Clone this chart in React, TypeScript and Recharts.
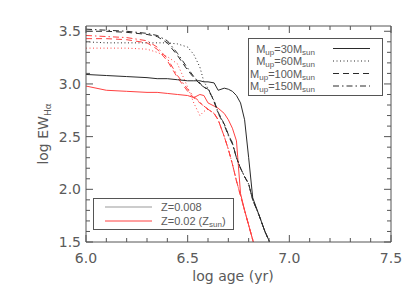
import { LineChart, Line, XAxis, YAxis } from 'recharts'

// log age grid shared by all tracks
const ages = [6.0, 6.1, 6.2, 6.3, 6.35, 6.4, 6.45, 6.5, 6.53, 6.56, 6.58, 6.6, 6.63, 6.65, 6.68, 6.7, 6.72, 6.74, 6.76, 6.78, 6.8, 6.82, 6.85, 6.88, 6.91]

// Z=0.008 (black)
const z008m30 = [3.09, 3.08, 3.07, 3.06, 3.05, 3.05, 3.04, 3.03, 3.03, 3.03, 3.02, 3.02, 3.01, 2.94, 2.96, 2.95, 2.93, 2.89, 2.82, 2.66, 2.3, 1.92, 1.76, 1.6, 1.47]
const z008m60 = [3.4, 3.39, 3.39, 3.39, 3.39, 3.39, 3.38, 3.35, 3.28, 3.16, 3.02, 2.96, 2.84, 2.73, 2.62, 2.52, 2.44, 2.3, 2.2, 2.12, 2.05, 1.9, 1.76, 1.6, 1.47]
const z008m100 = [3.5, 3.5, 3.49, 3.47, 3.45, 3.39, 3.27, 3.13, 3.06, 3.0, 2.97, 2.95, 2.84, 2.73, 2.62, 2.52, 2.44, 2.3, 2.2, 2.12, 2.05, 1.9, 1.76, 1.6, 1.47]
const z008m150 = [3.52, 3.51, 3.5, 3.48, 3.46, 3.41, 3.29, 3.15, 3.07, 3.01, 2.96, 2.96, 2.83, 2.72, 2.61, 2.51, 2.43, 2.3, 2.2, 2.12, 2.05, 1.9, 1.76, 1.6, 1.47]

// Z=0.02 (red)
const z02m30 = [2.98, 2.94, 2.93, 2.92, 2.92, 2.91, 2.9, 2.89, 2.87, 2.9, 2.89, 2.82, 2.79, 2.77, 2.72, 2.66, 2.58, 2.46, 1.96, 1.8, 1.66, 1.52, 1.3, null, null]
const z02m60 = [3.34, 3.34, 3.34, 3.33, 3.3, 3.26, 3.19, 2.97, 2.82, 2.7, 2.74, 2.76, 2.72, 2.66, 2.5, 2.38, 2.24, 2.08, 1.94, 1.8, 1.66, 1.52, 1.3, null, null]
const z02m100 = [3.43, 3.43, 3.42, 3.39, 3.33, 3.22, 3.06, 2.93, 2.87, 2.82, 2.79, 2.76, 2.72, 2.66, 2.5, 2.38, 2.24, 2.08, 1.94, 1.8, 1.66, 1.52, 1.3, null, null]
const z02m150 = [3.46, 3.45, 3.44, 3.41, 3.35, 3.24, 3.08, 2.95, 2.88, 2.83, 2.79, 2.76, 2.72, 2.66, 2.5, 2.38, 2.24, 2.08, 1.94, 1.8, 1.66, 1.52, 1.3, null, null]

const xMajor = [6.0, 6.5, 7.0, 7.5]
const yMajor = [1.5, 2.0, 2.5, 3.0, 3.5]
const xTicks = Array.from({ length: 16 }, (_, i) => Math.round((6 + i * 0.1) * 10) / 10)
const yTicks = Array.from({ length: 21 }, (_, i) => Math.round((1.5 + i * 0.1) * 10) / 10)

const data = ages.map((age, i) => ({
  age,
  a30: z008m30[i], a60: z008m60[i], a100: z008m100[i], a150: z008m150[i],
  b30: z02m30[i], b60: z02m60[i], b100: z02m100[i], b150: z02m150[i],
}))

const BLACK = '#2a2a2a'
const RED = '#ff4040'
const TXT = '#5a5a5a'
const FONT = 'DejaVu Sans, sans-serif'
const LFONT = 'Liberation Sans, Arial, sans-serif'
const dash = { m30: undefined, m60: '1 2.5', m100: '6 4', m150: '6 3 1.5 3' }

const isMajor = (v: number, list: number[]) => list.some((m) => Math.abs(m - v) < 1e-6)

const BottomTick = (p: any) => {
  const v = p.payload.value
  const big = isMajor(v, xMajor)
  return (
    <g>
      <line x1={p.x} x2={p.x} y1={p.y} y2={p.y - (big ? 7 : 4)} stroke="#555" />
      {big && (
        <text x={p.x} y={p.y + 21} textAnchor="middle" fontSize={14} fill={TXT} fontFamily={FONT}>
          {v.toFixed(1)}
        </text>
      )}
    </g>
  )
}
const TopTick = (p: any) => {
  const big = isMajor(p.payload.value, xMajor)
  return <line x1={p.x} x2={p.x} y1={p.y} y2={p.y + (big ? 7 : 4)} stroke="#555" />
}
const LeftTick = (p: any) => {
  const v = p.payload.value
  const big = isMajor(v, yMajor)
  return (
    <g>
      <line x1={p.x} x2={p.x + (big ? 7 : 4)} y1={p.y} y2={p.y} stroke="#555" />
      {big && (
        <text x={p.x - 5} y={p.y + 5} textAnchor="end" fontSize={14} fill={TXT} fontFamily={FONT}>
          {v.toFixed(1)}
        </text>
      )}
    </g>
  )
}
const RightTick = (p: any) => {
  const big = isMajor(p.payload.value, yMajor)
  return <line x1={p.x} x2={p.x - (big ? 7 : 4)} y1={p.y} y2={p.y} stroke="#555" />
}

const mupRows = [
  { m: '30', d: dash.m30, y: 48.5 },
  { m: '60', d: dash.m60, y: 61 },
  { m: '100', d: dash.m100, y: 73.5 },
  { m: '150', d: dash.m150, y: 86 },
]

export default function App() {
  const axisProps = { tickSize: 0, tickMargin: 0, tickLine: false, interval: 0 as const, stroke: '#555' }
  return (
    <div style={{ position: 'absolute', left: 0, top: 0, width: 415, height: 297, background: '#fff' }}>
      <LineChart width={415} height={297} data={data} margin={{ top: 16, right: 14, bottom: 35, left: 46 }}>
        <XAxis xAxisId="b" dataKey="age" type="number" domain={[6, 7.5]} ticks={xTicks} orientation="bottom" height={20} tick={BottomTick} {...axisProps} />
        <XAxis xAxisId="t" dataKey="age" type="number" domain={[6, 7.5]} ticks={xTicks} orientation="top" height={10} tick={TopTick} {...axisProps} />
        <YAxis yAxisId="l" type="number" domain={[1.5, 3.55]} allowDataOverflow ticks={yTicks} orientation="left" width={40} tick={LeftTick} {...axisProps} />
        <YAxis yAxisId="r" type="number" domain={[1.5, 3.55]} allowDataOverflow ticks={yTicks} orientation="right" width={10} tick={RightTick} {...axisProps} />

        <Line xAxisId="b" yAxisId="l" dataKey="b60" stroke={RED} strokeDasharray={dash.m60} dot={false} isAnimationActive={false} />
        <Line xAxisId="b" yAxisId="l" dataKey="b100" stroke={RED} strokeDasharray={dash.m100} dot={false} isAnimationActive={false} />
        <Line xAxisId="b" yAxisId="l" dataKey="b150" stroke={RED} strokeDasharray={dash.m150} dot={false} isAnimationActive={false} />
        <Line xAxisId="b" yAxisId="l" dataKey="b30" stroke={RED} dot={false} isAnimationActive={false} />
        <Line xAxisId="b" yAxisId="l" dataKey="a60" stroke={BLACK} strokeDasharray={dash.m60} dot={false} isAnimationActive={false} />
        <Line xAxisId="b" yAxisId="l" dataKey="a100" stroke={BLACK} strokeDasharray={dash.m100} dot={false} isAnimationActive={false} />
        <Line xAxisId="b" yAxisId="l" dataKey="a150" stroke={BLACK} strokeDasharray={dash.m150} dot={false} isAnimationActive={false} />
        <Line xAxisId="b" yAxisId="l" dataKey="a30" stroke={BLACK} dot={false} isAnimationActive={false} />

        {/* axis titles */}
        <text x={233} y={281} textAnchor="middle" fontSize={14} fill={TXT} fontFamily={FONT}>log age (yr)</text>
        <text transform="translate(48,134) rotate(-90)" textAnchor="middle" fontSize={14} fill={TXT} fontFamily={FONT}>
          log EW<tspan fontSize={9} dy={3}>Hα</tspan>
        </text>

        {/* Mup legend */}
        <rect x={248.5} y={38.5} width={134} height={57} fill="#fff" stroke="#555" />
        {mupRows.map((r) => (
          <g key={r.m}>
            <text x={315} y={r.y + 4} textAnchor="end" fontSize={11} fill={TXT} fontFamily={LFONT}>
              M<tspan fontSize={8} dy={2}>up</tspan>
              <tspan dy={-2}>={r.m}M</tspan>
              <tspan fontSize={8} dy={2}>sun</tspan>
            </text>
            <line x1={333} x2={370} y1={r.y} y2={r.y} stroke={BLACK} strokeDasharray={r.d} />
          </g>
        ))}

        {/* metallicity legend */}
        <rect x={93.5} y={198.5} width={140} height={31} fill="#fff" stroke="#555" />
        <line x1={105} x2={152} y1={207} y2={207} stroke="#bbb" strokeWidth={1.5} />
        <line x1={105} x2={152} y1={221} y2={221} stroke={RED} />
        <text x={161} y={211} fontSize={11} fill={TXT} fontFamily={LFONT}>Z=0.008</text>
        <text x={161} y={225} fontSize={11} fill={TXT} fontFamily={LFONT}>
          Z=0.02 (Z<tspan fontSize={8} dy={2}>sun</tspan>
          <tspan dy={-2}>)</tspan>
        </text>
      </LineChart>
    </div>
  )
}
